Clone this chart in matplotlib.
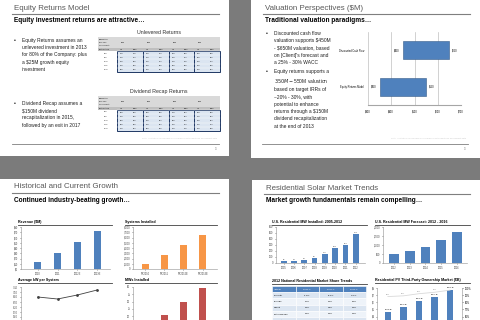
"""
four slide thumbnails on a gray background
"""
import matplotlib
matplotlib.use('Agg')
import matplotlib.pyplot as plt
from matplotlib.patches import Rectangle

plt.rcParams['font.family'] = ['Liberation Sans', 'DejaVu Sans']

W, H = 480, 320
BLUE = '#4f81bd'
ORANGE = '#f79646'
RED = '#c0504d'
TITLE_GRAY = '#595959'
LINE_GRAY = '#7f7f7f'

# slide 1: equity returns
unlev_title = 'Unlevered Returns'
recap_title = 'Dividend Recap Returns'
exit_multiples = ['8.0x', '9.0x', '10.0x', '11.0x', '12.0x']
unlev_irr = [[24, 21, 18, 16], [27, 24, 21, 18], [30, 27, 24, 21], [33, 30, 26, 23], [36, 32, 29, 25]]
recap_irr = [[29, 26, 22, 19], [33, 29, 25, 22], [36, 32, 28, 25], [39, 35, 31, 27], [42, 38, 34, 30]]
entry_values = ['$450', '$500', '$550', '$600']

# slide 2: valuation
val_labels = ['Equity Returns Model', 'Discounted Cash Flow']
val_low = [350, 450]
val_high = [550, 650]
val_ticks = [300, 400, 500, 600, 700]

# slide 3: growth
rev_years = ['2010', '2011', '2012E', '2013E']
revenue = [13, 30, 51, 72]
sys_years = ['FY2010', 'FY2011', 'FY2012E', 'FY2013E']
systems = [1000, 2600, 4600, 6500]
avg_kw = [6.80, 6.68, 6.92, 7.22]
mw_installed = [12, 21, 30, 39]

# slide 4: market trends
mw_years = ['2005', '2006', '2007', '2008', '2009', '2010', '2011', '2012']
mw_hist = [27, 38, 58, 80, 155, 248, 300, 488]
fc_years = ['2012', '2013', '2014', '2015', '2016']
mw_forecast = [480, 640, 900, 1280, 1720]
tpo_years = ['2012', '2013', '2014', '2015', '2016']
tpo_market = [4.6, 5.3, 6.2, 6.7, 7.7]
tpo_share = [88, 89, 92, 94, 97]
share_cols = ['Installer', '2010 %', '2011 %', '2012 %']
share_rows = [['SolarCity', '21.6%', '17.8%', '19.9%'],
              ['Verengo', '3.7%', '3.1%', '5.1%'],
              ['[Client]', '3.4%', '4.3%', '3.4%'],
              ['PetersenDean', '3.1%', '2.4%', '3.4%'],
              ['Sungevity', '1.2%', '1.9%', '2.9%']]

fig = plt.figure(figsize=(4.8, 3.2), dpi=100)
fig.patch.set_facecolor('#7b7b7b')
bg = fig.add_axes([0, 0, 1, 1])
bg.set_xlim(0, W)
bg.set_ylim(H, 0)
bg.axis('off')


def box(x, y, w, h):
    return [x / W, 1 - (y + h) / H, w / W, h / H]


def slide(x, y, w, h, title, subtitle):
    bg.add_patch(Rectangle((x, y), w, h, facecolor='white', edgecolor='none'))
    bg.text(x + 14, y + 8, title, fontsize=5.7, color=TITLE_GRAY, va='center')
    bg.plot([x + 12, x + w - 10], [y + 14, y + 14], color=LINE_GRAY, lw=0.8)
    bg.text(x + 14, y + 21, subtitle, fontsize=4.7, fontweight='bold', va='center')


def bullet(x, y, lines):
    bg.text(x, y, '\u2022', fontsize=3.5, va='top')
    bg.text(x + 8, y, '\n'.join(lines), fontsize=3.5, va='top', linespacing=1.55, color='#202020')


def footer(x, y, x1, x2):
    bg.text(x2 - 2, y - 6, 'Note: illustrative values based on management projections and market data', fontsize=1.6,
            color='#c8c8c8', ha='right', va='center')
    bg.plot([x1, x2], [y, y], color=LINE_GRAY, lw=0.6)
    bg.text(x2 - 4, y + 5, '10', fontsize=1.8, color='#999999', va='center')


def returns_table(x, y, title, irr):
    bg.text(x + 61, y - 5, title, fontsize=3.8, ha='center', va='center', color='#303030')
    first = 19
    gw = (122 - first) / 4
    bg.add_patch(Rectangle((x, y), 122, 11, facecolor='#d9d9d9', edgecolor='none'))
    bg.add_patch(Rectangle((x, y + 11), 122, 3, facecolor='#bfbfbf', edgecolor='none'))
    for k, lab in enumerate(['Transaction', 'Rev. M.x', 'Unlev. Equity']):
        bg.text(x + 1, y + 2 + k * 3.3, lab, fontsize=1.4, va='center')
    bg.text(x + 1, y + 12.5, 'Exit Multiple', fontsize=1.4, va='center')
    for g in range(4):
        gx = x + first + g * gw
        bg.text(gx + 4, y + 5.5, entry_values[g], fontsize=1.4, va='center')
        bg.text(gx + 3, y + 12.5, 'IRR', fontsize=1.3, va='center')
        bg.text(gx + gw / 2 + 3, y + 12.5, 'MOIC', fontsize=1.3, va='center')
        bg.add_patch(Rectangle((gx, y + 14), gw, 21, facecolor='#dbe5f1', edgecolor='#1f3864', lw=0.7))
        for r in range(5):
            ry = y + 14 + r * 4.2
            bg.plot([gx, gx + gw], [ry, ry], color='#ffffff', lw=0.3)
            bg.text(gx + 3, ry + 2.1, '{}%'.format(irr[r][g]), fontsize=1.4, va='center')
            bg.text(gx + gw / 2 + 3, ry + 2.1, '{:.1f}x'.format(1 + irr[r][g] / 10), fontsize=1.4, va='center')
    for r in range(5):
        bg.text(x + 6, y + 16 + r * 4.2, exit_multiples[r], fontsize=1.4, va='center')


def small_axes(x, y, w, h):
    ax = fig.add_axes(box(x, y, w, h))
    ax.set_facecolor('white')
    for s in ('top', 'right'):
        ax.spines[s].set_visible(False)
    for s in ('left', 'bottom'):
        ax.spines[s].set_color('#a6a6a6')
        ax.spines[s].set_linewidth(0.5)
    ax.tick_params(labelsize=1.8, length=1, width=0.4, pad=1, colors='#404040')
    return ax


def chart_header(x, y, w, text):
    bg.text(x, y, text, fontsize=2.6, fontweight='bold', va='center')
    bg.plot([x, x + w], [y + 3, y + 3], color='#404040', lw=0.6)


def cagr(x, y, text):
    bg.text(x, y, text, fontsize=1.9, ha='center', va='center',
            bbox=dict(boxstyle='square,pad=0.6', facecolor='white', edgecolor='#404040', lw=0.5), zorder=5)


# ---- slide 1
slide(0, 0, 229, 156, 'Equity Returns Model', 'Equity investment returns are attractive\u2026')
bullet(14, 38, ['Equity Returns assumes an', 'unlevered investment in 2013', 'for 80% of the Company: plus',
                'a $25M growth equity', 'investment'])
bullet(14, 101, ['Dividend Recap assumes a', '$150M dividend', 'recapitalization in 2015,',
                 'followed by an exit in 2017'])
returns_table(98, 37, unlev_title, unlev_irr)
returns_table(98, 96, recap_title, recap_irr)
footer(0, 144, 12, 219)

# ---- slide 2
slide(251, 0, 229, 158, 'Valuation Perspectives ($M)', 'Traditional valuation paradigms\u2026')
bullet(266, 31, ['Discounted cash flow', 'valuation supports $450M', '- $650M valuation, based',
                 "on [Client]'s forecast and", 'a 25% - 30% WACC'])
bullet(266, 69, ['Equity returns supports a', '$350M - $550M valuation', 'based on target IRRs of',
                 '~20% - 30%, with', 'potential to enhance', 'returns through a $150M',
                 'dividend recapitalization', 'at the end of 2013'])
ax = fig.add_axes(box(368, 32, 93, 73))
ax.barh(range(len(val_labels)), [h - l for l, h in zip(val_low, val_high)], left=val_low,
        height=0.5, color=BLUE, edgecolor='#385d8a', lw=0.4, zorder=3)
for i in range(len(val_labels)):
    ax.text(val_low[i] - 12, i, '${}'.format(val_low[i]), fontsize=1.8, ha='right', va='center')
    ax.text(val_high[i] + 12, i, '${}'.format(val_high[i]), fontsize=1.8, ha='left', va='center')
ax.set_yticks(range(len(val_labels)))
ax.set_yticklabels(val_labels)
ax.set_xlim(300, 700)
ax.set_ylim(-0.5, 1.5)
ax.set_xticks(val_ticks)
ax.set_xticklabels(['${}'.format(v) for v in val_ticks])
ax.grid(axis='x', color='#bfbfbf', lw=0.5)
for s in ax.spines.values():
    s.set_visible(False)
ax.spines['bottom'].set_visible(True)
ax.spines['bottom'].set_color('#a6a6a6')
ax.tick_params(labelsize=1.8, length=0, pad=3)
footer(251, 144, 262, 468)

# ---- slide 3
slide(0, 179, 229, 141, 'Historical and Current Growth', 'Continued industry-beating growth\u2026')
chart_header(18, 222, 94, 'Revenue ($M)')
ax = small_axes(21, 227, 89, 42)
ax.bar(range(4), revenue, width=0.36, color=BLUE)
ax.set_xlim(-0.85, 3.65)
ax.set_ylim(0, 80)
ax.set_yticks(range(0, 81, 10))
ax.set_yticklabels(['$' + str(v) for v in range(0, 81, 10)])
ax.set_xticks(range(4))
ax.set_xticklabels(rev_years)
cagr(65, 231, 'XX% CAGR')

chart_header(125, 222, 92, 'Systems Installed')
ax = small_axes(133, 227, 84, 42)
ax.bar(range(4), systems, width=0.36, color=ORANGE)
ax.set_xlim(-0.63, 3.75)
ax.set_ylim(0, 8000)
ax.set_yticks(range(0, 8001, 1000))
ax.set_yticklabels(['{:,}'.format(v) for v in range(0, 8001, 1000)])
ax.set_xticks(range(4))
ax.set_xticklabels(sys_years)
cagr(170, 231, 'XX% CAGR')

# the lower charts run off the bottom of the slide, so only visible ticks get labels
chart_header(18, 280, 94, 'Average kW per System')
ax = small_axes(21, 287, 89, 40)
ax.plot(range(4), avg_kw, color='#404040', lw=0.6, marker='o', ms=1)
ax.set_xlim(-0.85, 3.65)
ax.set_ylim(5.0, 7.4)
kw_ticks = [5.6 + 0.3 * k for k in range(7)]
ax.set_yticks(kw_ticks)
ax.set_yticklabels(['{:.2f}'.format(v) for v in kw_ticks])
ax.set_xticks([])

chart_header(125, 280, 92, 'MWs Installed')
ax = small_axes(133, 287, 84, 58)
ax.bar(range(4), mw_installed, width=0.36, color=RED)
ax.set_xlim(-0.63, 3.75)
ax.set_ylim(0, 40)
ax.set_yticks(range(20, 41, 5))
ax.set_xticks([])
cagr(169, 296, 'XX% CAGR')

# ---- slide 4
slide(252, 180, 228, 140, 'Residential Solar Market Trends', 'Market growth fundamentals remain compelling\u2026')
chart_header(272, 222, 95, 'U.S. Residential MW Installed: 2005-2012')
ax = small_axes(276, 227, 89, 36)
ax.bar(range(8), mw_hist, width=0.55, color=BLUE)
for i, v in enumerate(mw_hist):
    ax.text(i, v + 15, str(v), fontsize=1.6, ha='center', va='bottom', color='#404040')
ax.set_xlim(-0.75, 7.9)
ax.set_ylim(0, 600)
ax.set_yticks(range(0, 601, 100))
ax.set_xticks(range(8))
ax.set_xticklabels(mw_years)
cagr(314, 238, 'XX% CAGR')

chart_header(375, 222, 95, 'U.S. Residential MW Forecast: 2012 - 2016')
ax = small_axes(383, 227, 84, 36)
ax.bar(range(5), mw_forecast, width=0.62, color=BLUE)
ax.set_xlim(-0.7, 4.65)
ax.set_ylim(0, 2000)
ax.set_yticks(range(0, 2001, 500))
ax.set_yticklabels(['{:,}'.format(v) for v in range(0, 2001, 500)])
ax.set_xticks(range(5))
ax.set_xticklabels(fc_years)
cagr(413, 238, 'XX% CAGR')

chart_header(272, 281, 95, '2012 National Residential Market Share Trends')
tx, ty, cw, rh = 272, 286, 23.5, 6.2
for j, c in enumerate(share_cols):
    bg.add_patch(Rectangle((tx + j * cw, ty), cw, rh, facecolor=BLUE, edgecolor='white', lw=0.4))
    bg.text(tx + j * cw + (2 if j == 0 else cw / 2), ty + rh / 2, c, fontsize=1.6, color='white',
            ha='left' if j == 0 else 'center', va='center')
for i, row in enumerate(share_rows):
    fc = '#dbe5f1' if i % 2 == 0 else '#eef3f9'
    for j, c in enumerate(row):
        cy = ty + (i + 1) * rh
        bg.add_patch(Rectangle((tx + j * cw, cy), cw, rh, facecolor=fc, edgecolor='white', lw=0.4))
        bg.text(tx + j * cw + (2 if j == 0 else cw / 2), cy + rh / 2, c, fontsize=1.6,
                ha='left' if j == 0 else 'center', va='center')

chart_header(375, 280, 95, 'Residential PV Third-Party Ownership Market ($B)')
ax = small_axes(377, 288, 85, 57)
ax.bar(range(5), tpo_market, width=0.4, color=BLUE)
for i, v in enumerate(tpo_market):
    ax.text(i, v + 0.25, '${:.1f} B'.format(v), fontsize=1.6, ha='center', va='bottom')
ax.set_xlim(-0.7, 4.77)
ax.set_ylim(0, 8)
ax.set_yticks(range(4, 9))
ax.set_yticklabels(['$' + str(v) for v in range(4, 9)])
ax.set_xticks([])
ax2 = ax.twinx()
ax2.plot(range(5), tpo_share, color='#d9d9d9', lw=0.6)
for i, v in enumerate(tpo_share):
    ax2.text(i, v + 2.5, '{}%'.format(v), fontsize=1.5, ha='center', color='#808080')
ax2.set_ylim(20, 100)
ax2.set_yticks(range(60, 101, 10))
ax2.set_yticklabels(['{}%'.format(v) for v in range(60, 101, 10)])
ax2.tick_params(labelsize=1.8, length=1, width=0.4, pad=1)
for s in ('top', 'left', 'bottom'):
    ax2.spines[s].set_visible(False)
ax2.spines['right'].set_color('#a6a6a6')
ax2.spines['right'].set_linewidth(0.5)

fig.savefig('out.png', dpi=100, facecolor=fig.get_facecolor())
